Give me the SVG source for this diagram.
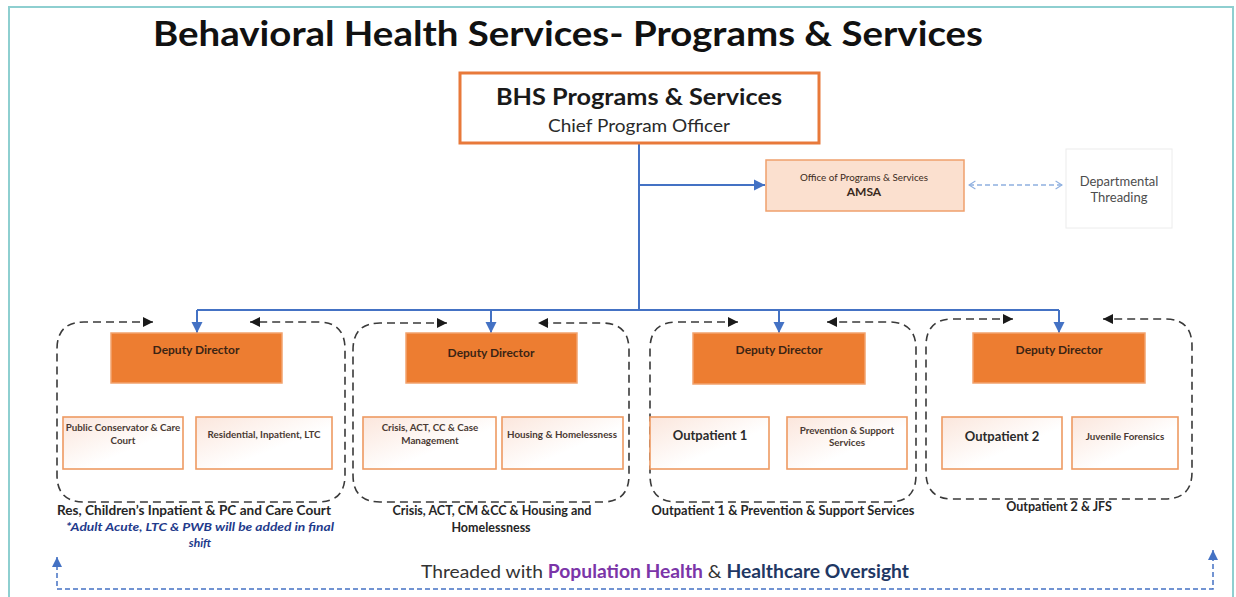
<svg xmlns="http://www.w3.org/2000/svg" width="1236" height="597" viewBox="0 0 1236 597">
<defs>
<style>
text{font-family:Lato,"Open Sans","Liberation Sans",sans-serif;}
.title{font-size:35px;font-weight:bold;fill:#111;}
.dd{fill:#ed7d31;stroke:#f2a36e;stroke-width:1.5;}
.ddt{font-size:12px;font-weight:bold;fill:#3b2414;text-anchor:middle;}
.sub{fill:url(#subg);stroke:#ee9a62;stroke-width:1.6;}
.subt{font-size:9.8px;font-weight:bold;fill:#4a3a33;text-anchor:middle;}
.subt2{font-size:13px;font-weight:bold;fill:#2b2b2b;text-anchor:middle;}
.loop{fill:none;stroke:#3a3a3a;stroke-width:1.6;stroke-dasharray:8,5;marker-start:url(#blk);marker-end:url(#blk);}
.blue{fill:none;stroke:#4472c4;stroke-width:2;}
.drop{fill:none;stroke:#4472c4;stroke-width:2;marker-end:url(#bl);}
.glab{font-size:12.5px;font-weight:bold;fill:#262626;text-anchor:middle;}
.note{font-size:12px;font-weight:bold;font-style:italic;fill:#1f3b8c;text-anchor:middle;}
</style>
<linearGradient id="subg" x1="0" y1="0" x2="1" y2="1">
<stop offset="0" stop-color="#fbe6dc"/>
<stop offset="0.6" stop-color="#ffffff"/>
</linearGradient>
<marker id="bl" viewBox="0 0 10 10" refX="10" refY="5" markerWidth="11" markerHeight="12" markerUnits="userSpaceOnUse" orient="auto">
<path d="M0,0 L10,5 L0,10 z" fill="#4472c4"/>
</marker>
<marker id="blk" viewBox="0 0 10 10" refX="10" refY="5" markerWidth="10" markerHeight="10" markerUnits="userSpaceOnUse" orient="auto-start-reverse">
<path d="M0,0 L10,5 L0,10 z" fill="#1a1a1a"/>
</marker>
<marker id="chev" viewBox="0 0 10 12" refX="9" refY="6" markerWidth="8" markerHeight="10" markerUnits="userSpaceOnUse" orient="auto-start-reverse">
<path d="M1,1 L9,6 L1,11" fill="none" stroke="#8fb0e0" stroke-width="1.5"/>
</marker>
<marker id="bbl" viewBox="0 0 10 10" refX="10" refY="5" markerWidth="10" markerHeight="13" markerUnits="userSpaceOnUse" orient="auto-start-reverse">
<path d="M0,0 L10,5 L0,10 z" fill="#4472c4"/>
</marker>
</defs>

<rect x="9" y="7" width="1224" height="610" fill="#ffffff" stroke="#8ecfd0" stroke-width="2"/>

<text class="title" x="568" y="46" text-anchor="middle" textLength="830" lengthAdjust="spacingAndGlyphs">Behavioral Health Services- Programs &amp; Services</text>

<g id="connectors">
<path class="blue" d="M639,144 V310"/>
<path class="blue" d="M639,185 H765" marker-end="url(#bl)"/>
<path class="blue" d="M197,310 H1059"/>
<path class="drop" d="M197,310 V333"/>
<path class="drop" d="M491,310 V333"/>
<path class="drop" d="M779,310 V333"/>
<path class="drop" d="M1059,310 V333"/>
<path d="M969,185 H1062" fill="none" stroke="#8fb0e0" stroke-width="1.5" stroke-dasharray="5,3" marker-start="url(#chev)" marker-end="url(#chev)"/>
<path d="M57,557 V589 H1213 V550" fill="none" stroke="#4472c4" stroke-width="1.5" stroke-dasharray="5,3" marker-start="url(#bbl)" marker-end="url(#bbl)"/>
<path class="loop" d="M153,322 H84 Q57,322 57,349 V475 Q57,502 84,502 H318 Q345,502 345,475 V349 Q345,322 318,322 H250"/>
<path class="loop" d="M447,323 H380 Q353,323 353,350 V475 Q353,502 380,502 H602 Q629,502 629,475 V350 Q629,323 602,323 H538"/>
<path class="loop" d="M738,322 H677 Q650,322 650,349 V475 Q650,502 677,502 H889 Q916,502 916,475 V349 Q916,322 889,322 H827"/>
<path class="loop" d="M1013,319 H953 Q926,319 926,346 V472 Q926,499 953,499 H1165 Q1192,499 1192,472 V346 Q1192,319 1165,319 H1103"/>
</g>

<g id="top">
<rect x="460" y="73" width="359" height="70" fill="#ffffff" stroke="#e8793a" stroke-width="3"/>
<text x="639" y="105" text-anchor="middle" font-size="23" font-weight="bold" fill="#1a1a1a" textLength="286" lengthAdjust="spacingAndGlyphs">BHS Programs &amp; Services</text>
<text x="639" y="132" text-anchor="middle" font-size="17" fill="#2a2a2a" textLength="182" lengthAdjust="spacingAndGlyphs">Chief Program Officer</text>
</g>

<g id="amsa">
<rect x="766" y="160" width="198" height="51" fill="#fbe0cf" stroke="#efa06c" stroke-width="1.5"/>
<text x="864" y="181" text-anchor="middle" font-size="9" fill="#3a2a20" textLength="128" lengthAdjust="spacingAndGlyphs">Office of Programs &amp; Services</text>
<text x="864" y="196" text-anchor="middle" font-size="12" font-weight="bold" fill="#3a2a20">AMSA</text>
</g>

<g id="threading">
<rect x="1066" y="149" width="106" height="79" fill="#ffffff" stroke="#ececec" stroke-width="1"/>
<text x="1119" y="186" text-anchor="middle" font-size="13" fill="#4d4d4d">Departmental</text>
<text x="1119" y="202" text-anchor="middle" font-size="13" fill="#4d4d4d">Threading</text>
</g>

<g id="group1">
<rect class="dd" x="111" y="333" width="171" height="50"/>
<text class="ddt" x="196" y="354">Deputy Director</text>
<rect class="sub" x="63" y="417" width="120" height="52"/>
<text class="subt" x="123" y="431">Public Conservator &amp; Care</text>
<text class="subt" x="123" y="444">Court</text>
<rect class="sub" x="196" y="417" width="136" height="52"/>
<text class="subt" x="264" y="438">Residential, Inpatient, LTC</text>
<text class="glab" x="194" y="515" textLength="274" lengthAdjust="spacingAndGlyphs">Res, Children’s Inpatient &amp; PC and Care Court</text>
<text class="note" x="200" y="531" textLength="268" lengthAdjust="spacingAndGlyphs">*Adult Acute, LTC &amp; PWB will be added in final</text>
<text class="note" x="200" y="547">shift</text>
</g>

<g id="group2">
<rect class="dd" x="406" y="333" width="171" height="50"/>
<text class="ddt" x="491" y="357">Deputy Director</text>
<rect class="sub" x="363" y="417" width="133" height="52"/>
<text class="subt" x="430" y="431">Crisis, ACT, CC &amp; Case</text>
<text class="subt" x="430" y="444">Management</text>
<rect class="sub" x="502" y="417" width="121" height="52"/>
<text class="subt" x="562" y="438">Housing &amp; Homelessness</text>
<text class="glab" x="492" y="515" textLength="199" lengthAdjust="spacingAndGlyphs">Crisis, ACT, CM &amp;CC &amp; Housing and</text>
<text class="glab" x="491" y="532">Homelessness</text>
</g>

<g id="group3">
<rect class="dd" x="693" y="333" width="172" height="51"/>
<text class="ddt" x="779" y="354">Deputy Director</text>
<rect class="sub" x="650" y="417" width="119" height="52"/>
<text class="subt2" x="710" y="440">Outpatient 1</text>
<rect class="sub" x="787" y="417" width="120" height="52"/>
<text class="subt" x="847" y="434">Prevention &amp; Support</text>
<text class="subt" x="847" y="446">Services</text>
<text class="glab" x="783" y="515" textLength="263" lengthAdjust="spacingAndGlyphs">Outpatient 1 &amp; Prevention &amp; Support Services</text>
</g>

<g id="group4">
<rect class="dd" x="973" y="333" width="172" height="50"/>
<text class="ddt" x="1059" y="354">Deputy Director</text>
<rect class="sub" x="942" y="417" width="120" height="52"/>
<text class="subt2" x="1002" y="441">Outpatient 2</text>
<rect class="sub" x="1072" y="417" width="106" height="52"/>
<text class="subt" x="1125" y="440">Juvenile Forensics</text>
<text class="glab" x="1059" y="511">Outpatient 2 &amp; JFS</text>
</g>

<g id="footer">
<text x="665" y="578" text-anchor="middle" font-size="18" fill="#333333" textLength="488" lengthAdjust="spacingAndGlyphs">Threaded with <tspan fill="#7b35a8" font-weight="bold">Population Health</tspan> &amp; <tspan fill="#1f3864" font-weight="bold">Healthcare Oversight</tspan></text>
</g>
</svg>
